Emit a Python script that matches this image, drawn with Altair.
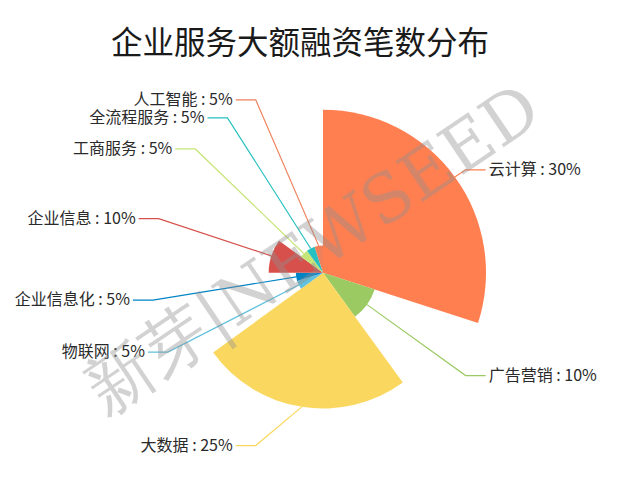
import math
import altair as alt
import pandas as pd

# ---------------- data ----------------
categories = ["云计算", "广告营销", "大数据", "物联网", "企业信息化",
              "企业信息", "工商服务", "全流程服务", "人工智能"]
values = [30, 10, 25, 5, 5, 10, 5, 5, 5]
colors = ["#ff7f50", "#9bca63", "#fad860", "#60c0dd", "#0084c6",
          "#d7504b", "#c6e579", "#26c0c0", "#f0805a"]
TITLE = "企业服务大额融资笔数分布"
WATERMARK = "新芽|NEWSEED"

# ---------------- layout (styles) ----------------
W, H = 600, 468
CX, CY = 315, 264.7          # pie centre in view pixels
R = 163                      # max rose radius
LEN1, LEN2 = 12, 20          # label line lengths
LABEL_H = 18
FONT = "Noto Sans CJK SC"

total = sum(values)
vmax = max(values)

# rose (radius) pie label layout, ECharts-like
rows = []
start = 0.0
for i, (c, v) in enumerate(zip(categories, values)):
    a = v / total * 2 * math.pi
    mid = start + a / 2
    start += a
    dx, dy = math.sin(mid), -math.cos(mid)
    r = R * v / vmax
    rows.append(dict(idx=i, cat=c, value=v, dx=dx, dy=dy,
                     x1=CX + r * dx, y1=CY + r * dy,
                     x2=CX + (R + LEN1) * dx, y2=CY + (R + LEN1) * dy,
                     side=1 if dx >= 0 else -1))

S = R + LEN1 + LEN2
for side in (1, -1):
    lst = sorted([d for d in rows if d["side"] == side], key=lambda d: d["y2"])
    for d in lst:
        d["ly"] = d["y2"]
    for k in range(1, len(lst)):
        if lst[k]["ly"] < lst[k - 1]["ly"] + LABEL_H:
            lst[k]["ly"] = lst[k - 1]["ly"] + LABEL_H
    up = [d for d in lst if d["ly"] < CY]
    down = [d for d in lst if d["ly"] >= CY]
    last = 0.0
    for d in up:
        dyv = abs(d["ly"] - CY)
        dxv = math.sqrt(S * S - dyv * dyv) if dyv < R + LEN1 else abs(d["x2"] - CX)
        if dxv <= last:
            dxv = last + 10
        d["lx"] = CX + side * dxv
        last = dxv
    last = float("inf")
    for d in down:
        dyv = abs(d["ly"] - CY)
        dxv = math.sqrt(S * S - dyv * dyv) if dyv < R + LEN1 else abs(d["x2"] - CX)
        if dxv >= last:
            dxv = last - 10
        d["lx"] = CX + side * dxv
        last = dxv

line_rows, text_rows = [], []
for d in rows:
    x3 = d["lx"] - d["side"] * 3
    ex = x3 - d["side"] * LEN2
    for p, (px, py) in enumerate([(d["x1"], d["y1"]), (ex, d["ly"]), (x3, d["ly"])]):
        line_rows.append(dict(cat=d["cat"], pt=p, x=px, y=py))
    pct = round(d["value"] / total * 100)
    text_rows.append(dict(cat=d["cat"], x=d["lx"], y=d["ly"],
                          label=f"{d['cat']} : {pct}%",
                          side="right" if d["side"] > 0 else "left"))

pie_df = pd.DataFrame({"cat": categories, "value": values, "idx": list(range(len(values)))})
line_df = pd.DataFrame(line_rows)
text_df = pd.DataFrame(text_rows)

xs = alt.Scale(domain=[0, W], range=[0, W])
ys = alt.Scale(domain=[0, H], range=[0, H])
cscale = alt.Scale(domain=categories, range=colors)

pie = alt.Chart(pie_df).mark_arc(stroke=None).encode(
    theta=alt.Theta("value:Q", stack=True),
    radius=alt.Radius("value:Q", scale=alt.Scale(type="linear", domain=[0, vmax], range=[0, R], zero=True)),
    order=alt.Order("idx:Q"),
    color=alt.Color("cat:N", scale=cscale, legend=None),
    x=alt.value(CX),
    y=alt.value(CY),
)

lines = alt.Chart(line_df).mark_line(strokeWidth=1.2).encode(
    x=alt.X("x:Q", scale=xs, axis=None),
    y=alt.Y("y:Q", scale=ys, axis=None),
    detail="cat:N",
    order="pt:Q",
    color=alt.Color("cat:N", scale=cscale, legend=None),
)

text_r = alt.Chart(text_df).transform_filter(alt.datum.side == "right").mark_text(
    align="left", baseline="middle", fontSize=16, font=FONT, color="#2a2a2a"
).encode(x=alt.X("x:Q", scale=xs, axis=None), y=alt.Y("y:Q", scale=ys, axis=None), text="label:N")

text_l = alt.Chart(text_df).transform_filter(alt.datum.side == "left").mark_text(
    align="right", baseline="middle", fontSize=16, font=FONT, color="#2a2a2a"
).encode(x=alt.X("x:Q", scale=xs, axis=None), y=alt.Y("y:Q", scale=ys, axis=None), text="label:N")

title = alt.Chart(pd.DataFrame({"t": [TITLE]})).mark_text(
    align="center", baseline="middle", fontSize=31.5, font=FONT, color="#1a1a1a"
).encode(text="t:N", x=alt.value(292), y=alt.value(37))

wm = alt.Chart(pd.DataFrame({"t": [WATERMARK]})).mark_text(
    align="center", baseline="middle", fontSize=67, font="DejaVu Serif",
    color="#909090", opacity=0.4, angle=326
).encode(text="t:N", x=alt.value(306), y=alt.value(243))

chart = alt.layer(pie, lines, text_r, text_l, title, wm).properties(
    width=W, height=H, padding=0, autosize="none"
).configure_view(strokeWidth=0)

chart.save("out.html", embed_options={"renderer": "svg", "actions": False})
